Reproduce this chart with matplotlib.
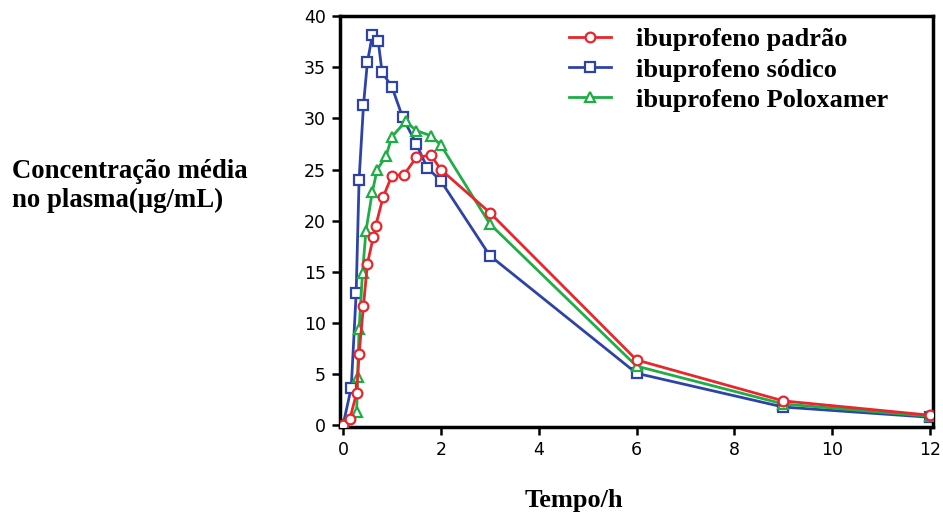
import matplotlib
matplotlib.use('Agg')
import matplotlib.pyplot as plt
import numpy as np

# Tempo (h) e concentração média (µg/mL)
t_padrao = [0, 0.14, 0.28, 0.33, 0.42, 0.5, 0.62, 0.67, 0.82, 1.0, 1.25, 1.5, 1.8, 2.0, 3, 6, 9, 12]
c_padrao = [0, 0.6, 3.2, 7.0, 11.7, 15.8, 18.4, 19.5, 22.3, 24.4, 24.5, 26.2, 26.4, 25.0, 20.8, 6.4, 2.4, 1.0]

t_sodico = [0, 0.17, 0.27, 0.33, 0.42, 0.5, 0.6, 0.72, 0.8, 1.0, 1.22, 1.5, 1.72, 2.0, 3, 6, 9, 12]
c_sodico = [0, 3.7, 12.9, 24.0, 31.3, 35.5, 38.1, 37.6, 34.5, 33.1, 30.1, 27.5, 25.2, 23.9, 16.6, 5.1, 1.8, 0.8]

t_polox = [0, 0.28, 0.3, 0.33, 0.4, 0.47, 0.6, 0.7, 0.88, 1.0, 1.28, 1.5, 1.8, 2.0, 3, 6, 9, 12]
c_polox = [0, 1.3, 4.7, 9.4, 14.9, 19.0, 22.8, 25.0, 26.3, 28.2, 29.7, 28.8, 28.3, 27.4, 19.7, 5.8, 2.1, 0.9]

labels = ['ibuprofeno padrão', 'ibuprofeno sódico', 'ibuprofeno Poloxamer']
x_ticks = [0, 2, 4, 6, 8, 10, 12]
y_ticks = [0, 5, 10, 15, 20, 25, 30, 35, 40]

RED = '#e8262c'
BLUE = '#2e43a8'
GREEN = '#1fae45'

fig = plt.figure(figsize=(9.43, 5.18), dpi=100)
ax = fig.add_axes([340 / 943, 1 - 427 / 518, 593 / 943, 411 / 518])

common = dict(linewidth=2.0, markersize=7, markerfacecolor='white', markeredgewidth=1.6)
ax.plot(t_padrao, c_padrao, color=RED, marker='o', markeredgecolor=RED, label=labels[0], zorder=4, **common)
ax.plot(t_sodico, c_sodico, color=BLUE, marker='s', markeredgecolor=BLUE, label=labels[1], zorder=2, **common)
ax.plot(t_polox, c_polox, color=GREEN, marker='^', markeredgecolor=GREEN, label=labels[2], zorder=3, **common)

ax.set_xlim(-0.06, 12.06)
ax.set_ylim(-0.15, 40)
ax.set_xticks(x_ticks)
ax.set_yticks(y_ticks)

for s in ax.spines.values():
    s.set_linewidth(2.5)
ax.tick_params(direction='out', length=6, width=1.8, pad=4)
tick_family = ['Liberation Sans Narrow', 'DejaVu Sans']
for lab in ax.get_xticklabels() + ax.get_yticklabels():
    lab.set_fontfamily(tick_family)
    lab.set_fontsize(12.5)

serif = ['Liberation Serif', 'DejaVu Serif']
leg = ax.legend(loc='upper left', bbox_to_anchor=(569 / 943, 1 - 28 / 518),
                bbox_transform=fig.transFigure, frameon=False, borderpad=0,
                borderaxespad=0, handlelength=1.6, handletextpad=0.95,
                labelspacing=0.25,
                prop=dict(family=serif, weight='bold', size=19))

fig.text(12 / 943, 1 - 186 / 518, 'Concentração média\nno plasma(µg/mL)',
         ha='left', va='center', fontfamily=serif, fontweight='bold',
         fontsize=19.3, linespacing=1.15)
fig.text(574 / 943, 1 - 500 / 518, 'Tempo/h', ha='center', va='center',
         fontfamily=serif, fontweight='bold', fontsize=19)

fig.savefig('out.png', dpi=100, facecolor='white')
